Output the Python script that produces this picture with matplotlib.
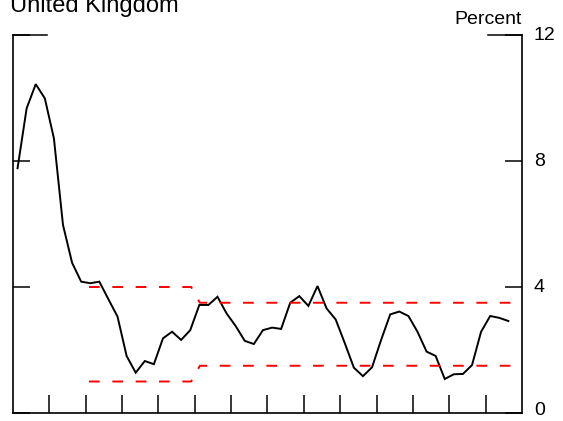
import numpy as np
import matplotlib.pyplot as plt

plt.rcParams['font.family'] = ['Liberation Sans', 'DejaVu Sans']

# quarterly inflation, percent, starting 1990 Q1
inflation = [7.77, 9.67, 10.44, 9.99, 8.72, 5.97, 4.77, 4.17, 4.12, 4.17,
             3.61, 3.06, 1.81, 1.28, 1.65, 1.55, 2.37, 2.58, 2.32, 2.63,
             3.43, 3.43, 3.69, 3.16, 2.76, 2.29, 2.19, 2.63, 2.71, 2.67,
             3.50, 3.71, 3.40, 4.03, 3.32, 2.97, 2.22, 1.44, 1.17, 1.45,
             2.32, 3.13, 3.22, 3.08, 2.58, 1.95, 1.81, 1.08, 1.23, 1.24,
             1.52, 2.58, 3.08, 3.02, 2.92]
start_year = 1990
end_year = 2004

# inflation target range
target_x = [1992.09, 1994.90, 1995.14, 2003.72]
target_upper = [4.0, 4.0, 3.5, 3.5]
target_lower = [1.0, 1.0, 1.5, 1.5]

yticks = [0, 4, 8, 12]

quarters = start_year + 0.125 + 0.25 * np.arange(len(inflation))

fig = plt.figure(figsize=(5.63, 4.21), dpi=100)
ax = fig.add_axes([13 / 563, 1 - 413 / 421, 509 / 563, 378 / 421])

ax.plot(quarters, inflation, color='black', lw=1.4, solid_joinstyle='miter')
for band in (target_upper, target_lower):
    ax.plot(target_x, band, color='#ff0000', lw=1.4, linestyle=(0, (5.5, 6.5)))

ax.set_xlim(start_year, end_year)
ax.set_ylim(0, 12)
ax.set_xticks(range(start_year + 1, end_year))
ax.set_yticks(yticks)
ax.set_xticklabels([])

ax.spines['top'].set_visible(False)
for s in ('left', 'right', 'bottom'):
    ax.spines[s].set_linewidth(1.2)

ax.tick_params(axis='x', direction='in', length=13, width=1.1, top=False)
ax.tick_params(axis='y', direction='in', length=12.2, width=1.1,
               left=True, right=True, labelleft=False, labelright=False)

# right-hand labels; the zero is nudged up so it stays inside the figure
for v in yticks:
    ax.annotate(str(v), xy=(1.0, v), xycoords=('axes fraction', 'data'),
                xytext=(8.5, 2 if v == 0 else 0), textcoords='offset points',
                ha='left', va='center', fontsize=14)

# short caps at the top corners
frac = 34 / 509
ax.axhline(12, xmin=0, xmax=frac, color='black', lw=1.1, clip_on=False)
ax.axhline(12, xmin=1 - frac, xmax=1, color='black', lw=1.1, clip_on=False)

ax.text(1.0, 1.0 + 11 / 378, 'Percent', transform=ax.transAxes,
        ha='right', va='baseline', fontsize=14)
fig.text(10 / 563, 1 - 12 / 421, 'United Kingdom', ha='left', va='baseline',
         fontsize=17)

fig.savefig('out.png', dpi=100)
